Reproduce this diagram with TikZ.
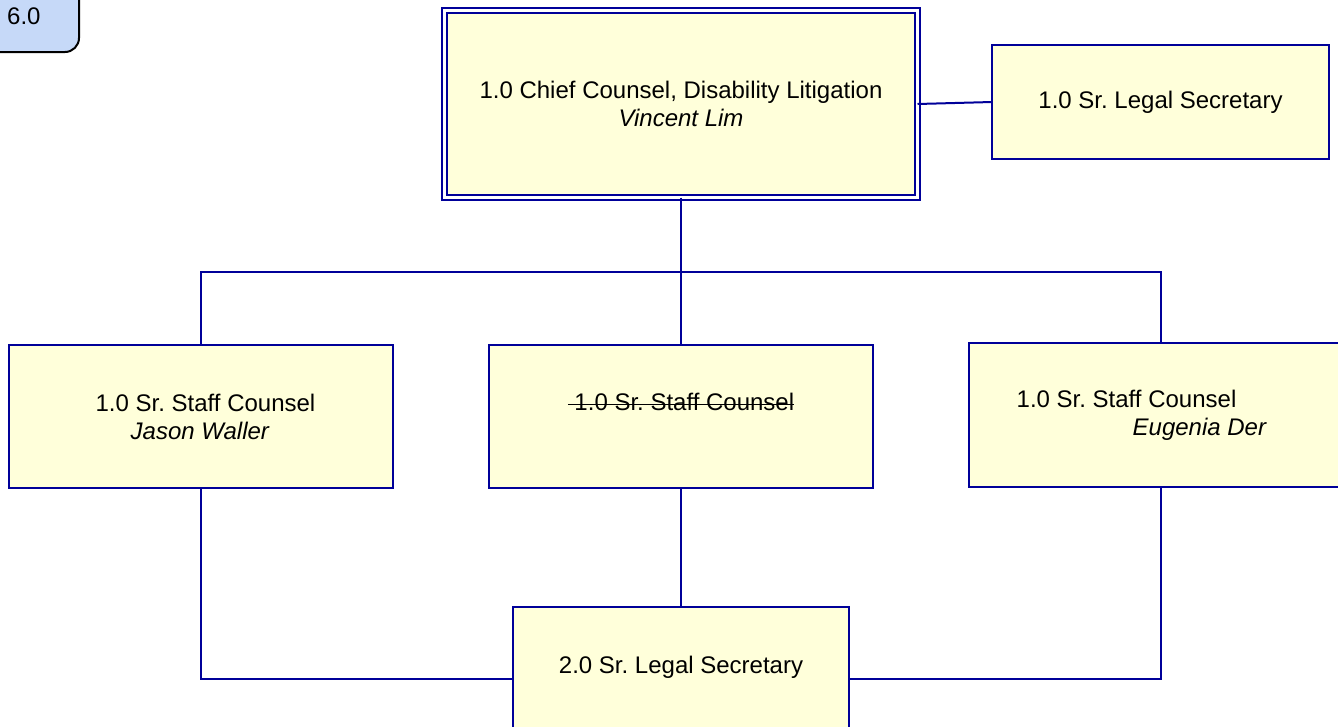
\documentclass[tikz,border=0pt]{standalone}
\usepackage{fontspec}
\setmainfont{Liberation Sans}
\usepackage{xcolor}
\usepackage{tikz}
\usetikzlibrary{positioning,calc}
\definecolor{orgblue}{HTML}{000099}
\definecolor{softyellow}{HTML}{FFFFDA}
\definecolor{tagblue}{HTML}{C6D9F8}
\newcommand\strikeword[1]{\setbox0\hbox{#1}\rlap{\rule[0.24em]{\wd0}{1.2pt}}\box0}
\frenchspacing
\tikzset{
  post/.style={draw=orgblue, line width=2pt, fill=softyellow, align=center, inner sep=0pt, outer sep=0pt, minimum width=384pt, minimum height=143pt},
  chiefpost/.style={draw=orgblue, line width=1.5pt, double=white, double distance=3.5pt, fill=softyellow, align=center, inner sep=0pt, outer sep=0pt, minimum width=473pt, minimum height=187pt},
  tagbox/.style={draw=black, line width=2pt, fill=tagblue, rounded corners=14pt, inner sep=0pt, minimum width=120pt, minimum height=80pt},
  link/.style={draw=orgblue, line width=2pt}
}

\begin{document}
\begin{tikzpicture}[x=1pt, y=-1pt, font=\fontsize{24}{28}\selectfont]
  \useasboundingbox (0,0) rectangle (1338,726);

  \node[tagbox, anchor=south east] (tag) at (80,53) {};
  \node[anchor=base west, inner sep=0pt] (tagtext) at (7,24) {6.0};

  \node[chiefpost] (chief) at (681,104) {1.0 Chief Counsel, Disability Litigation\\\textit{Vincent Lim}};
  \node[post, minimum width=337pt, minimum height=114pt] (sec1) at (1160.5,102) {1.0 Sr. Legal Secretary};

  \node[post, align=left] (jason) at (201,416.5) {\hspace*{9pt}1.0 Sr. Staff Counsel\\\hspace*{44pt}\textit{Jason Waller}};
  \node[post] (vacant) at (681,416) {\strikeword{\ 1.0 Sr. Staff Counsel}\\\mbox{}};
  \node[post, align=left, minimum height=144pt] (der) at (1161,415) {1.0 Sr. Staff Counsel\hspace*{69pt}\\\hspace*{116pt}\textit{Eugenia Der}};

  \node[post, minimum width=336pt, minimum height=144pt] (sec2) at (681,679) {2.0 Sr. Legal Secretary\\\mbox{}};

  \coordinate (bus) at (681,272);
  \draw[link] (chief.east) -- (sec1.west);
  \draw[link] (chief.south) -- (bus);
  \draw[link] (jason.north) |- (bus) -| (der.north);
  \draw[link] (bus) -- (vacant.north);
  \draw[link] (vacant.south) -- (sec2.north);
  \draw[link] (jason.south) |- (sec2.west);
  \draw[link] (der.south) |- (sec2.east);
\end{tikzpicture}
\end{document}
